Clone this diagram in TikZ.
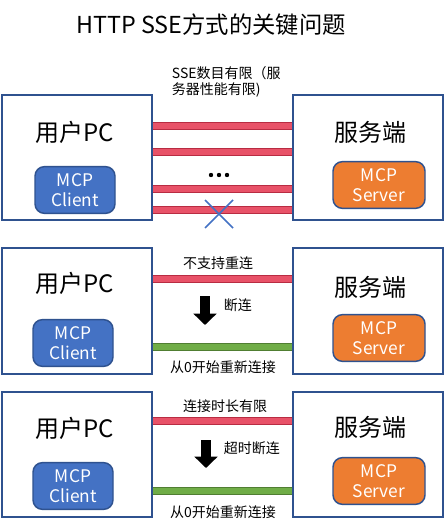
\documentclass[tikz,border=0pt]{standalone}
\usepackage{fontspec}
\setmainfont{Noto Sans CJK SC}
\usepackage{tikz}
\usetikzlibrary{arrows.meta}
\tikzset{every picture/.style={line width=0.75pt}}

\definecolor{frameblue}{RGB}{47,82,143}
\definecolor{clientblue}{RGB}{68,114,196}
\definecolor{serverorange}{RGB}{237,125,49}
\definecolor{barpink}{RGB}{232,82,104}
\definecolor{barred}{RGB}{184,44,66}
\definecolor{barlime}{RGB}{112,173,71}
\definecolor{bargreen}{RGB}{80,126,50}

\tikzset{
  hostbox/.style={draw=frameblue, line width=1.5pt, fill=white, minimum width=112.5pt, minimum height=93.75pt, inner sep=0pt},
  hostlabel/.style={font=\fontsize{18}{21}\selectfont},
  mcpbox/.style={draw=frameblue, line width=1.1pt, rounded corners=7pt, minimum height=35pt, inner sep=0pt, text=white, align=center, font=\fontsize{13}{15.5}\selectfont},
  clientbox/.style={mcpbox, fill=clientblue, minimum width=60pt},
  serverbox/.style={mcpbox, fill=serverorange, minimum width=69pt},
  redbar/.style={draw=barred, line width=1.1pt, double=barpink, double distance=4.2pt},
  greenbar/.style={draw=bargreen, line width=1.1pt, double=barlime, double distance=4.2pt},
  notetext/.style={font=\fontsize{10.5}{12}\selectfont},
  blockarrow/.style={-{Triangle[length=8.5pt,width=17pt]}, line width=8pt},
  crossmark/.style={draw=clientblue, line width=1.1pt}
}

\begin{document}
\begin{tikzpicture}[x=0.75pt,y=0.75pt,yscale=-1,xscale=1]
\useasboundingbox (0,0) rectangle (445,530);

% Title
\draw (211,25) node (title) [font=\fontsize{17.5}{21}\selectfont] {HTTP SSE方式的关键问题};

%%% Panel 1: limited number of SSE connections
\draw (77,157.5) node (pcA) [hostbox] {};
\draw (367.5,157.5) node (srvA) [hostbox] {};
\draw (75,132) node (pcAtext) [hostlabel] {用户PC};
\draw (370,132) node (srvAtext) [hostlabel] {服务端};
\draw (75,190) node (clientA) [clientbox] {MCP\\Client};
\draw (379,185) node (serverA) [serverbox] {MCP\\Server};
\draw (167,82) node (noteA) [notetext, anchor=west, align=left] {SSE数目有限（服\\务器性能有限)};

% SSE bars
\draw [redbar] (pcA.east |- 0,126) -- (srvA.west |- 0,126);
\draw [redbar] (pcA.east |- 0,152) -- (srvA.west |- 0,152);
\draw [redbar] (pcA.east |- 0,189) -- (srvA.west |- 0,189);
\draw [redbar] (pcA.east |- 0,210) -- (srvA.west |- 0,210);

% dots
\foreach \dx in {211,219,227}
  \fill (\dx,175) circle (2.2);

% blocked connection
\draw [crossmark] (205,200) -- (233,228) (233,200) -- (205,228);

%%% Panel 2: no reconnection
\draw (77,311) node (pcB) [hostbox] {};
\draw (367.5,311) node (srvB) [hostbox] {};
\draw (75,283) node (pcBtext) [hostlabel] {用户PC};
\draw (370,287) node (srvBtext) [hostlabel] {服务端};
\draw (73,343) node (clientB) [clientbox] {MCP\\Client};
\draw (379,338) node (serverB) [serverbox] {MCP\\Server};

\draw [redbar] (pcB.east |- 0,279) -- (srvB.west |- 0,279);
\draw [greenbar] (pcB.east |- 0,347) -- (srvB.west |- 0,347);

\draw (218,263) node (noteB) [notetext] {不支持重连};
\coordinate (cutBtop) at (205,296);
\coordinate (cutBend) at (205,325);
\draw [blockarrow] (cutBtop) -- (cutBend);
\draw (219,305) node (dropB) [notetext, anchor=west] {断连};
\draw (223,367) node (retryB) [notetext] {从0开始重新连接};

%%% Panel 3: limited connection time
\draw (77,454.5) node (pcC) [hostbox] {};
\draw (367.5,454.5) node (srvC) [hostbox] {};
\draw (75,428) node (pcCtext) [hostlabel] {用户PC};
\draw (370,427) node (srvCtext) [hostlabel] {服务端};
\draw (73,486) node (clientC) [clientbox] {MCP\\Client};
\draw (379,481) node (serverC) [serverbox] {MCP\\Server};

\draw [redbar] (pcC.east |- 0,421) -- (srvC.west |- 0,421);
\draw [greenbar] (pcC.east |- 0,491) -- (srvC.west |- 0,491);

\draw (225,406) node (noteC) [notetext] {连接时长有限};
\coordinate (cutCtop) at (206,440);
\coordinate (cutCend) at (206,468);
\draw [blockarrow] (cutCtop) -- (cutCend);
\draw (219,448) node (dropC) [notetext, anchor=west] {超时断连};
\draw (223,512) node (retryC) [notetext] {从0开始重新连接};

\end{tikzpicture}
\end{document}
